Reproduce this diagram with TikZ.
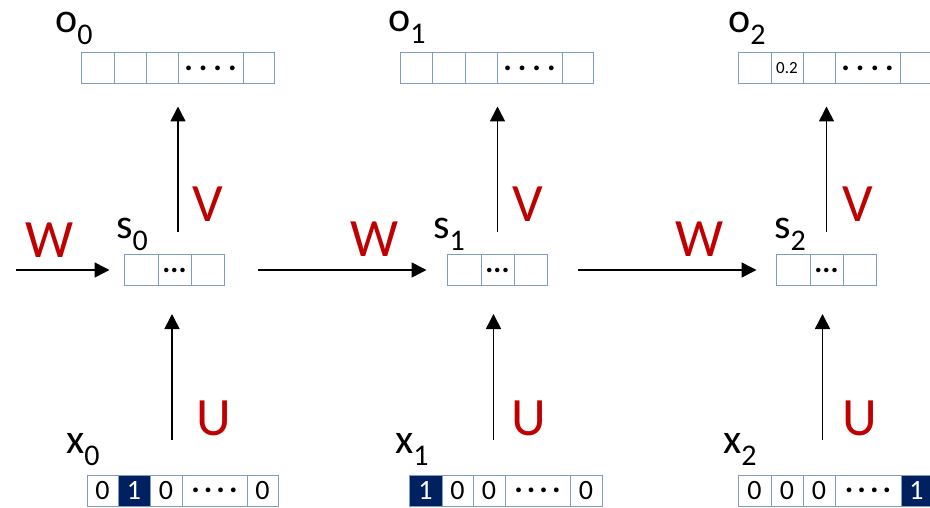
\documentclass[tikz,border=0pt]{standalone}
\usepackage{fontspec}
\setmainfont{Carlito}
\usetikzlibrary{arrows.meta}
\definecolor{cellblue}{HTML}{7F9BC8}
\definecolor{hotblue}{HTML}{002060}
\definecolor{wred}{HTML}{C00000}
\tikzset{
    cell/.style={draw=cellblue, line width=1pt, inner sep=0pt, minimum height=31pt,
        font=\fontsize{28}{28}\selectfont},
    hot/.style={fill=hotblue, text=white},
    off/.style={},
    arr/.style={-{Triangle[length=15pt, width=15pt]}, line width=1.6pt},
    varlbl/.style={anchor=base west, inner sep=0pt, font=\fontsize{42}{42}\selectfont},
    wlbl/.style={anchor=base, inner sep=0pt, text=wred, font=\fontsize{54}{54}\selectfont}
}
% subscript of a variable name
\newcommand{\lsub}[1]{\raisebox{-12pt}{\fontsize{30}{30}\selectfont #1}}
% the "...." of a long vector and the "..." of a short one
\newcommand{\longdots}[1]{{\fontsize{32}{32}\selectfont\bfseries .\hspace{#1}.\hspace{#1}.\hspace{#1}.}}
\newcommand{\shortdots}{{\fontsize{30}{30}\selectfont\bfseries ...}}
% one row of cells: name, centre y, list of left/right/text/style
\newcommand{\cellrow}[3]{%
    \foreach \l/\r/\t/\s [count=\i] in {#3}
        \node[cell, \s, minimum width={(\r-\l)*1pt}] (#1-\i) at ({(\l+\r)/2}, #2) {\t};%
}

\begin{document}
\begin{tikzpicture}[x=1pt, y=-1pt]
    \useasboundingbox (0,0) rectangle (930,508);

    % outputs
    \cellrow{o0}{68.5}{81/114//off, 114/146//off, 146/178//off, 178/243/\longdots{6pt}/off, 243/274//off}
    \cellrow{o1}{68.5}{400/432//off, 432/465//off, 465/497//off, 497/562/\longdots{6pt}/off, 562/593//off}
    \cellrow{o2}{68.5}{738/771//off, 771/803/{\fontsize{17}{17}\selectfont 0.2}/off, 803/835//off, 835/900/\longdots{6pt}/off, 900/932//off}

    % hidden states
    \cellrow{s0}{270}{124/158//off, 158/191/\shortdots/off, 191/224//off}
    \cellrow{s1}{270}{447/481//off, 481/514/\shortdots/off, 514/547//off}
    \cellrow{s2}{270}{776/810//off, 810/843/\shortdots/off, 843/876//off}

    % one-hot inputs
    \cellrow{x0}{490.5}{87/118/0/off, 118/150/1/hot, 150/182/0/off, 182/247/\longdots{4pt}/off, 247/278/0/off}
    \cellrow{x1}{490.5}{409/442/1/hot, 442/473/0/off, 473/505/0/off, 505/570/\longdots{4pt}/off, 570/602/0/off}
    \cellrow{x2}{490.5}{738/771/0/off, 771/803/0/off, 803/835/0/off, 835/901/\longdots{4pt}/off, 901/932/1/hot}

    % names
    \node[varlbl] (o0l) at (55,33) {o\lsub{0}};
    \node[varlbl] (o1l) at (388,32) {o\lsub{1}};
    \node[varlbl] (o2l) at (728,33) {o\lsub{2}};
    \node[varlbl] (s0l) at (116,239) {s\lsub{0}};
    \node[varlbl] (s1l) at (433,239) {s\lsub{1}};
    \node[varlbl] (s2l) at (774,239) {s\lsub{2}};
    \node[varlbl] (x0l) at (66,453) {x\lsub{0}};
    \node[varlbl] (x1l) at (395,453) {x\lsub{1}};
    \node[varlbl] (x2l) at (723,453) {x\lsub{2}};

    % state to output
    \foreach \i/\dx in {0/3.5pt, 1/0pt, 2/0pt}
        \draw[arr, shorten <=22pt, shorten >=22pt]
            ([xshift=\dx]s\i-2.north) -- ([xshift=\dx]s\i-2.north |- o\i-1.south);

    % input to state
    \foreach \i/\dx in {0/-2.5pt, 1/-4pt, 2/-4pt}
        \draw[arr, shorten <=35pt, shorten >=28pt]
            ([xshift=\dx]s\i-2.south |- x\i-1.north) -- ([xshift=\dx]s\i-2.south);

    % state to state
    \coordinate (win) at (16,270);
    \draw[arr, shorten >=14pt] (win) -- (s0-1.west);
    \draw[arr, shorten <=33pt, shorten >=20pt] (s0-3.east) -- (s1-1.west);
    \draw[arr, shorten <=30pt, shorten >=19pt] (s1-3.east) -- (s2-1.west);

    % weights
    \node[wlbl] (w0) at (50,258) {W};
    \node[wlbl] (w1) at (375,256) {W};
    \node[wlbl] (w2) at (700,256) {W};
    \node[wlbl] (v0) at (208,222) {V};
    \node[wlbl] (v1) at (528,222) {V};
    \node[wlbl] (v2) at (858,222) {V};
    \node[wlbl] (u0) at (214,435) {U};
    \node[wlbl] (u1) at (529,435) {U};
    \node[wlbl] (u2) at (860,435) {U};
\end{tikzpicture}
\end{document}
